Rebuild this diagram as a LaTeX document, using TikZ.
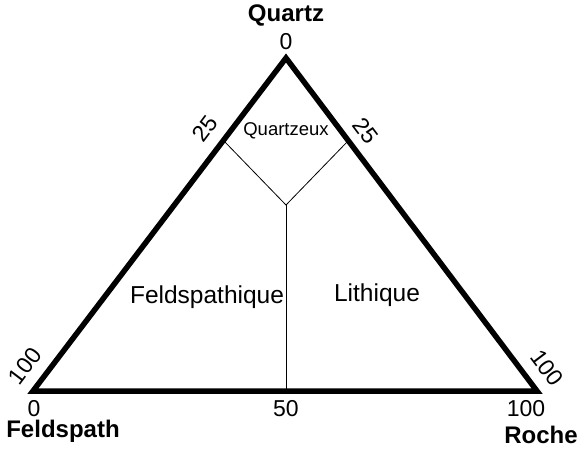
\documentclass[tikz,border=0pt]{standalone}
\usepackage{fontspec}
\setmainfont{Liberation Sans}
\begin{document}
\begin{tikzpicture}[x=1pt,y=-1pt,
  edge/.style={line width=5.5pt,line join=miter,line cap=butt},
  thin/.style={line width=0.8pt},
  lbl/.style={inner sep=0pt,font=\fontsize{23}{23}\selectfont},
  blbl/.style={inner sep=0pt,font=\fontsize{24}{24}\selectfont\bfseries},
  zone/.style={inner sep=0pt,font=\fontsize{24.5}{24.5}\selectfont}]
\useasboundingbox (0,0) rectangle (582,448);
\coordinate (Q) at (286,58);
\coordinate (F) at (33,391);
\coordinate (R) at (537,391);
\coordinate (L25) at (224,141);
\coordinate (R25) at (348,141);
\coordinate (J) at (286,205);
\coordinate (M) at (286,391);
\draw[thin] (L25) -- (J) -- (R25);
\draw[thin] (J) -- (M);
\draw[edge] (Q) -- (F) -- (R) -- cycle;
\node[blbl] (tq) at (286,15) {Quartz};
\node[lbl] (t0) at (286,42) {0};
\node[inner sep=0pt,font=\fontsize{18.5}{18.5}\selectfont] (tqz) at (286,131) {Quartzeux};
\node[lbl,rotate=53] (l25) at (205,129) {25};
\node[lbl,rotate=-53] (r25) at (366,131) {25};
\node[lbl,rotate=53] (l100) at (25,366) {100};
\node[lbl,rotate=-53] (r100) at (547,368) {100};
\node[lbl] (b0) at (34,409) {0};
\node[lbl] (b50) at (286,409) {50};
\node[lbl] (b100) at (526,409) {100};
\node[blbl] (tf) at (63,431) {Feldspath};
\node[blbl] (tr) at (541,435) {Roche};
\node[zone] (zf) at (207,297) {Feldspathique};
\node[zone] (zl) at (377,295) {Lithique};
\end{tikzpicture}
\end{document}
